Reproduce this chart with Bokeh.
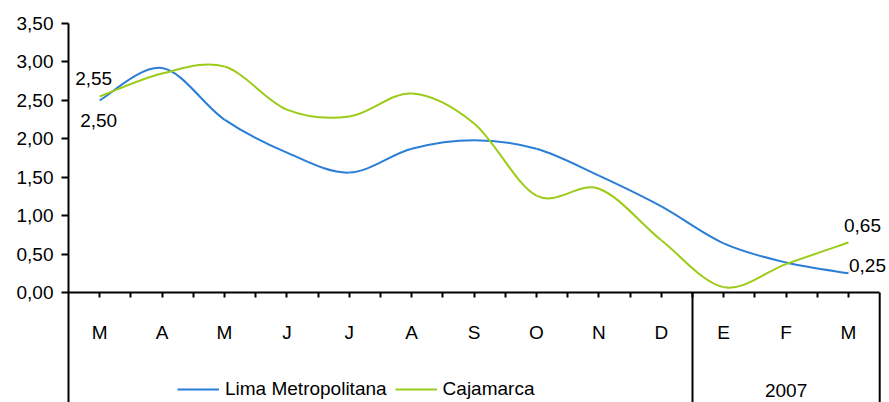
from bokeh.plotting import figure
from bokeh.models import Range1d, FixedTicker, Label, Legend, LegendItem
from bokeh.embed import file_html
from bokeh.resources import INLINE

# ---- data ----
months = ["M", "A", "M", "J", "J", "A", "S", "O", "N", "D", "E", "F", "M"]
lima = [2.50, 2.92, 2.25, 1.82, 1.56, 1.87, 1.98, 1.87, 1.52, 1.12, 0.64, 0.39, 0.25]
cajamarca = [2.55, 2.85, 2.94, 2.38, 2.29, 2.59, 2.20, 1.26, 1.35, 0.68, 0.07, 0.37, 0.65]
series_names = ["Lima Metropolitana", "Cajamarca"]
series_colors = ["#2a7ed6", "#9ccb19"]
y_ticks = [0.0, 0.5, 1.0, 1.5, 2.0, 2.5, 3.0, 3.5]
y_tick_labels = ["0,00", "0,50", "1,00", "1,50", "2,00", "2,50", "3,00", "3,50"]
year_labels = ["", "2007"]
year_sizes = [10, 3]

FONT = "Liberation Sans"
FS = "19px"

n = len(months)
xs = list(range(n))
y_bottom = -1.431
x_end = n - 0.5 + 0.157

p = figure(width=889, height=402, output_backend="svg", toolbar_location=None,
           x_range=Range1d(-0.5, x_end), y_range=Range1d(y_bottom, 3.5),
           min_border_left=68, min_border_right=0, min_border_top=23, min_border_bottom=0)
p.outline_line_color = None
p.xgrid.visible = False
p.ygrid.visible = False
p.background_fill_color = "white"
p.border_fill_color = "white"

# y axis
ya = p.yaxis[0]
ya.ticker = FixedTicker(ticks=y_ticks)
ya.major_label_overrides = {t: l for t, l in zip(y_ticks, y_tick_labels)}
ya.major_tick_out = 7
ya.major_tick_in = 0
ya.minor_tick_out = 0
ya.minor_tick_in = 0
ya.major_label_standoff = 8
ya.axis_line_width = 2
ya.major_tick_line_width = 2
ya.axis_line_color = "black"
ya.major_tick_line_color = "black"
ya.major_label_text_font = FONT
ya.major_label_text_font_size = FS
ya.major_label_text_color = "black"

# x axis at y=0
xa = p.xaxis[0]
xa.fixed_location = 0
xa.bounds = (-0.5, n - 0.5)
xa.ticker = FixedTicker(ticks=xs, minor_ticks=[i + 0.5 for i in range(n - 1)])
xa.major_label_overrides = {i: m for i, m in enumerate(months)}
xa.major_tick_out = 5
xa.major_tick_in = 0
xa.minor_tick_out = 5
xa.minor_tick_in = 0
xa.major_label_standoff = 24
xa.axis_line_width = 2
xa.major_tick_line_width = 2
xa.minor_tick_line_width = 2
xa.axis_line_color = "black"
xa.major_tick_line_color = "black"
xa.minor_tick_line_color = "black"
xa.major_label_text_font = FONT
xa.major_label_text_font_size = FS
xa.major_label_text_color = "black"

# table vertical lines (group boundaries)
bounds = []
acc = 0
for s in year_sizes:
    acc += s
    bounds.append(acc - 0.5)
p.multi_line(xs=[[b, b] for b in bounds], ys=[[0, y_bottom] for b in bounds],
             line_color="black", line_width=2)

# year labels
acc = 0
for lab, s in zip(year_labels, year_sizes):
    if lab:
        p.add_layout(Label(x=acc + (s - 1) / 2, y=0, y_offset=-98, text=lab,
                           text_align="center", text_baseline="middle",
                           text_font=FONT, text_font_size=FS, text_color="black"))
    acc += s


def smooth(xv, yv):
    x0, y0, x1, y1, cx0, cy0, cx1, cy1 = [], [], [], [], [], [], [], []
    m = len(xv)
    for i in range(m - 1):
        ip = max(i - 1, 0)
        i2 = min(i + 2, m - 1)
        x0.append(xv[i]); y0.append(yv[i])
        x1.append(xv[i + 1]); y1.append(yv[i + 1])
        cx0.append(xv[i] + (xv[i + 1] - xv[ip]) / 6)
        cy0.append(yv[i] + (yv[i + 1] - yv[ip]) / 6)
        cx1.append(xv[i + 1] - (xv[i2] - xv[i]) / 6)
        cy1.append(yv[i + 1] - (yv[i2] - yv[i]) / 6)
    return dict(x0=x0, y0=y0, x1=x1, y1=y1, cx0=cx0, cy0=cy0, cx1=cx1, cy1=cy1)


renderers = []
for vals, col in zip([lima, cajamarca], series_colors):
    r = p.bezier(line_color=col, line_width=2, **smooth(xs, vals))
    renderers.append(r)


def fmt(v):
    return f"{v:.2f}".replace(".", ",")


# data labels (first and last points)
label_specs = [
    (0, cajamarca[0], -6, 18),
    (0, lima[0], -1, -20),
    (n - 1, cajamarca[-1], 14, 17),
    (n - 1, lima[-1], 19, 8),
]
for xi, v, dx, dy in label_specs:
    p.add_layout(Label(x=xi, y=v, x_offset=dx, y_offset=dy, text=fmt(v),
                       text_align="center", text_baseline="middle",
                       text_font=FONT, text_font_size=FS, text_color="black"))

legend = Legend(items=[LegendItem(label=nm, renderers=[r]) for nm, r in zip(series_names, renderers)],
                orientation="horizontal", location=(109, 2),
                glyph_width=42, glyph_height=18, label_standoff=6, spacing=8,
                padding=0, margin=0, border_line_color=None, background_fill_alpha=0,
                label_text_font=FONT, label_text_font_size=FS, label_text_color="black")
p.add_layout(legend, "center")

open("out.html", "w").write(file_html(p, INLINE))
